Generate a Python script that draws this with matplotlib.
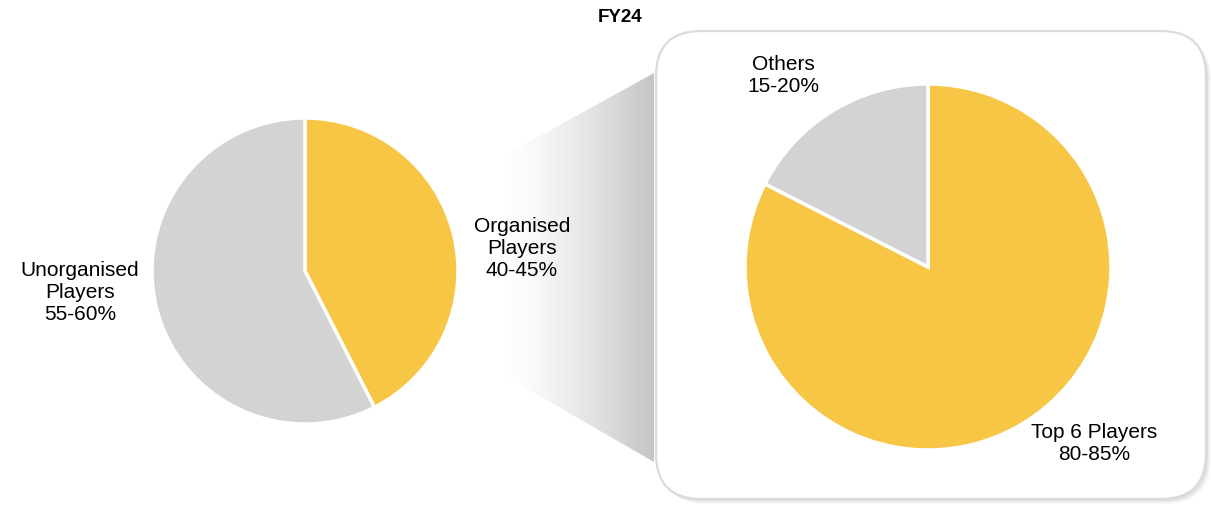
import matplotlib
matplotlib.use("Agg")
import matplotlib.pyplot as plt
import numpy as np
from matplotlib.patches import FancyBboxPatch, Polygon

# data
market_labels = ["Organised\nPlayers\n40-45%", "Unorganised\nPlayers\n55-60%"]
market_share = [42.5, 57.5]
organised_labels = ["Top 6 Players\n80-85%", "Others\n15-20%"]
organised_share = [82.5, 17.5]
title = "FY24"

YELLOW = "#F6C644"
GREY = "#D3D3D3"
W, H = 1211, 509

plt.rcParams["font.family"] = ["Liberation Sans", "DejaVu Sans"]

fig = plt.figure(figsize=(W / 100, H / 100), dpi=100)
ax = fig.add_axes([0, 0, 1, 1])
ax.set_xlim(0, W)
ax.set_ylim(0, H)
ax.set_aspect("equal")
ax.axis("off")


def iy(y):
    # image row -> axis y
    return H - y


# gradient connector between the two pies
poly = [(460, iy(180)), (654, iy(73)), (654, iy(462)), (460, iy(350))]
grad = np.linspace(0, 1, 256)
grad = np.clip((grad - 0.22) / 0.78, 0, 1) ** 1.4
img = np.ones((2, 256, 3))
for c in range(3):
    img[:, :, c] = 1 - grad * (1 - 0.77)
im = ax.imshow(img, extent=[460, 654, iy(462), iy(73)], aspect="auto", zorder=1)
clip = Polygon(poly, closed=True, transform=ax.transData, facecolor="none", edgecolor="none")
ax.add_patch(clip)
im.set_clip_path(clip)

# box with soft shadow
bx, by, bw, bh = 656, iy(499), 550, 468
for i, a in enumerate([0.05, 0.07, 0.09, 0.12]):
    off = 5 - i
    sh = FancyBboxPatch((bx + off, by - off), bw, bh,
                        boxstyle="round,pad=0,rounding_size=45",
                        facecolor="#9a9a9a", edgecolor="none", alpha=a, zorder=2)
    ax.add_patch(sh)
box = FancyBboxPatch((bx, by), bw, bh, boxstyle="round,pad=0,rounding_size=45",
                     facecolor="white", edgecolor="#DEDAD8", linewidth=1.6, zorder=3)
ax.add_patch(box)

wp = dict(edgecolor="white", linewidth=2.5)
ax.pie(market_share, colors=[YELLOW, GREY], startangle=90, counterclock=False,
       center=(305, iy(271)), radius=153, wedgeprops=wp, frame=True)
ax.pie(organised_share, colors=[YELLOW, GREY], startangle=90, counterclock=False,
       center=(928, iy(267)), radius=183, wedgeprops=wp, frame=True)
for p in ax.patches[-4:]:
    p.set_zorder(4)

ax.set_xlim(0, W)
ax.set_ylim(0, H)
ax.axis("off")

fs = 15
ax.text(522, iy(248), market_labels[0], ha="center", va="center", fontsize=fs, zorder=5)
ax.text(80, iy(293), market_labels[1], ha="center", va="center", fontsize=fs, zorder=5)
ax.text(1094, iy(443), organised_labels[0], ha="center", va="center", fontsize=fs, zorder=5)
ax.text(783, iy(75), organised_labels[1], ha="center", va="center", fontsize=fs, zorder=5)
ax.text(620, iy(17), title, ha="center", va="center", fontsize=13.5, fontweight="bold", zorder=5)

fig.savefig("out.png", dpi=100)
